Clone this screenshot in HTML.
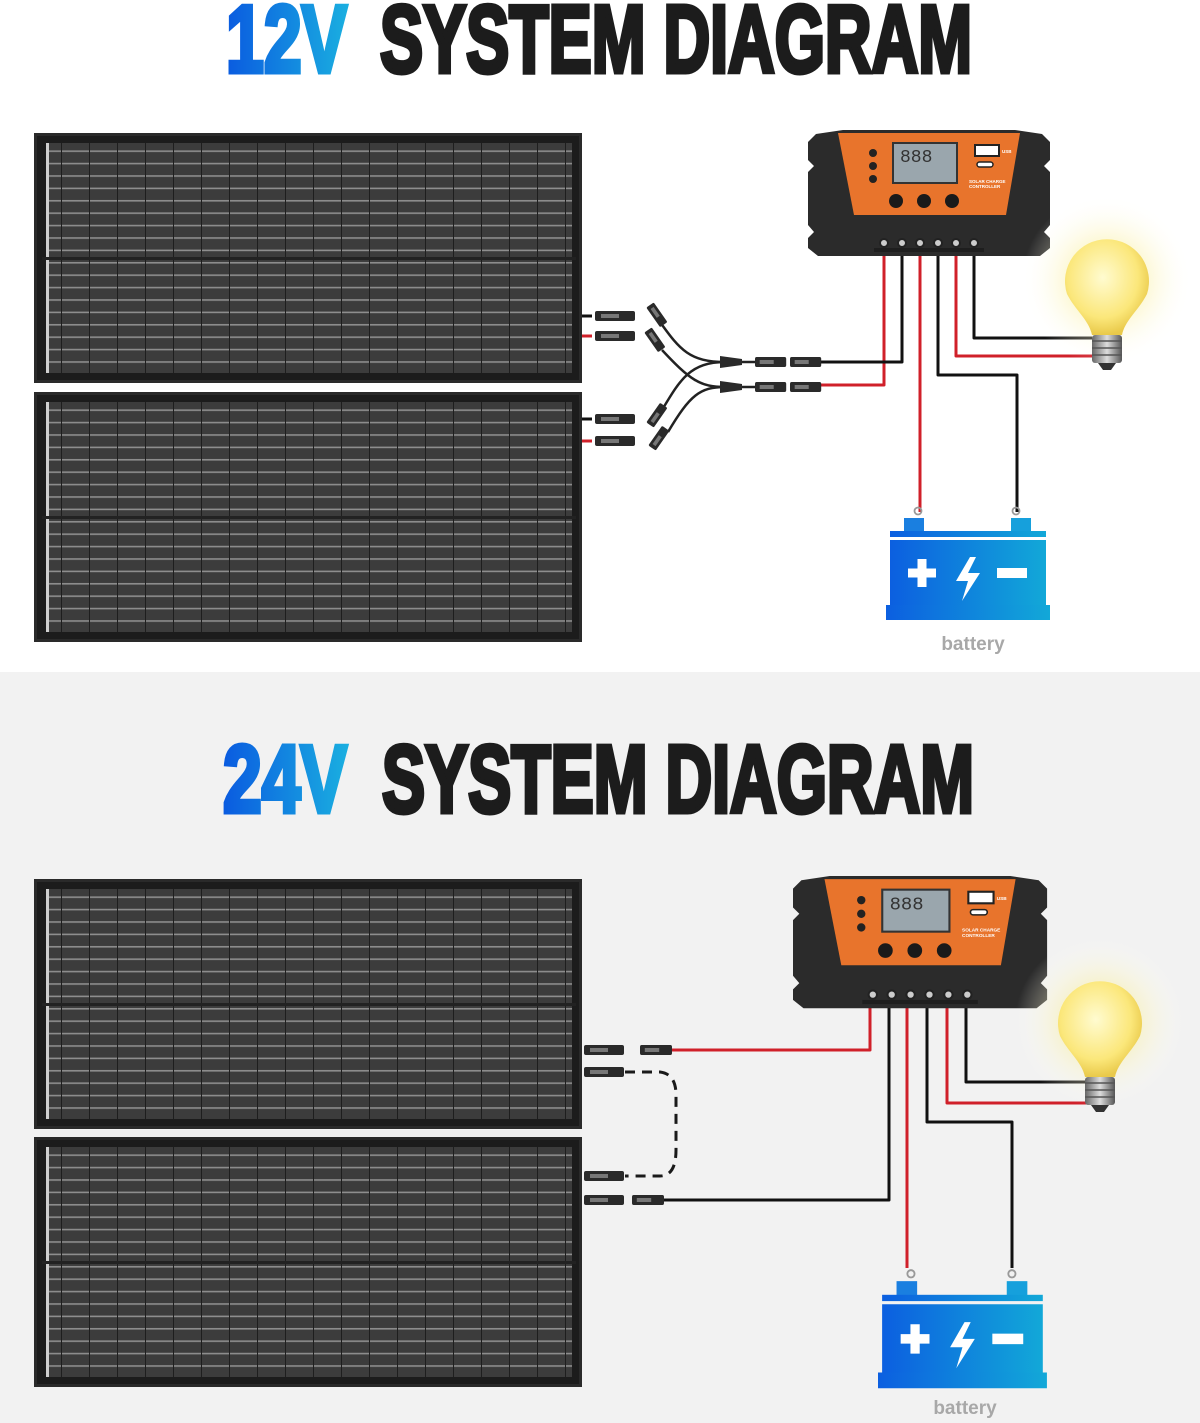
<!DOCTYPE html>
<html><head><meta charset="utf-8"><style>
html,body{margin:0;padding:0;width:1200px;height:1423px;overflow:hidden;background:#fff}
svg{display:block}
</style></head><body>
<svg width="1200" height="1423" viewBox="0 0 1200 1423" xmlns="http://www.w3.org/2000/svg" font-family="Liberation Sans, sans-serif">
<defs>
<linearGradient id="tg" x1="0" x2="1"><stop offset="0" stop-color="#0a5be0"/><stop offset="1" stop-color="#1aaee0"/></linearGradient>
<linearGradient id="bg" x1="0" x2="1"><stop offset="0" stop-color="#0c5fe0"/><stop offset="1" stop-color="#12a8d8"/></linearGradient>
<radialGradient id="glow"><stop offset="0" stop-color="#fff7b0" stop-opacity="0.9"/><stop offset="0.5" stop-color="#fbf3b8" stop-opacity="0.5"/><stop offset="1" stop-color="#fff" stop-opacity="0"/></radialGradient>
<radialGradient id="glass" cx="0.45" cy="0.4" r="0.6"><stop offset="0" stop-color="#fffbd0"/><stop offset="0.7" stop-color="#fbe77a"/><stop offset="1" stop-color="#e9c94a"/></radialGradient>
<linearGradient id="base" x1="0" x2="1"><stop offset="0" stop-color="#666"/><stop offset="0.5" stop-color="#ddd"/><stop offset="1" stop-color="#555"/></linearGradient>
<pattern id="cells" width="28" height="12.4" patternUnits="userSpaceOnUse">
<rect width="28" height="12.4" fill="#3c3c3c"/>
<rect y="5" width="28" height="1.6" fill="#8e8e8e"/>
<rect x="27" width="1" height="12.4" fill="#1e1e1e"/>
</pattern>
<g id="panel">
<rect x="0" y="0" width="548" height="250" fill="#2a2a2a"/>
<rect x="3" y="3" width="542" height="244" fill="#1c1c1c"/>
<rect x="12" y="10" width="526" height="230" fill="url(#cells)"/>
<rect x="12" y="10" width="3" height="230" fill="#cfcfcf"/>
<rect x="8" y="124" width="534" height="3" fill="#222"/>
</g>
<g id="ctrl">
<path d="M0,12 L8,4 L35,0 L207,0 L234,4 L242,12 L242,30 L236,36 L242,42 L242,95 L236,102 L242,108 L242,118 L232,126 L10,126 L0,118 L0,108 L6,102 L0,95 L0,42 L6,36 L0,30 Z" fill="#2b2b2b"/>
<path d="M30,3 L212,3 L198,85 L46,85 Z" fill="#e8742c"/>
<rect x="85" y="13" width="64" height="40" fill="#9aa6ad" stroke="#333" stroke-width="2"/>
<text x="92" y="32" font-size="18" fill="#333" font-family="Liberation Mono, monospace">888</text>
<circle cx="65" cy="23" r="4" fill="#222"/><circle cx="65" cy="36" r="4" fill="#222"/><circle cx="65" cy="49" r="4" fill="#222"/>
<rect x="167" y="15" width="24" height="11" fill="#fff" stroke="#222" stroke-width="2"/>
<rect x="169" y="32" width="16" height="5" rx="2.5" fill="#fff" stroke="#222" stroke-width="1.5"/>
<text x="161" y="53" font-size="4.5" fill="#fff" font-weight="bold">SOLAR CHARGE</text>
<text x="161" y="58" font-size="4.5" fill="#fff" font-weight="bold">CONTROLLER</text>
<text x="194" y="23" font-size="4.5" fill="#fff" font-weight="bold">USB</text>
<circle cx="88" cy="71" r="7" fill="#1a1a1a"/><circle cx="116" cy="71" r="7" fill="#1a1a1a"/><circle cx="144" cy="71" r="7" fill="#1a1a1a"/>
<rect x="66" y="118" width="110" height="4" fill="#1e1e1e"/>
<g fill="#ccc" stroke="#222" stroke-width="2">
<circle cx="76" cy="113" r="4"/><circle cx="94" cy="113" r="4"/><circle cx="112" cy="113" r="4"/><circle cx="130" cy="113" r="4"/><circle cx="148" cy="113" r="4"/><circle cx="166" cy="113" r="4"/>
</g>
</g>
<g id="bulb">
<circle cx="0" cy="0" r="85" fill="url(#glow)"/>
<path d="M-40,14 A42,42 0 1 1 40,14 C32,30 18,40 15,55 L-15,55 C-18,40 -32,30 -40,14 Z" fill="url(#glass)"/>
<rect x="-15" y="55" width="30" height="28" rx="3" fill="url(#base)"/>
<path d="M-15,61 H15 M-15,68 H15 M-15,75 H15" stroke="#555" stroke-width="1.5"/>
<path d="M-9,83 L9,83 L4,90 L-4,90 Z" fill="#333"/>
</g>
<g id="batt">
<rect x="18" y="3" width="20" height="15" fill="#1a7fe0"/>
<rect x="125" y="3" width="20" height="15" fill="#16a0dc"/>
<circle cx="32" cy="-4" r="3.5" fill="none" stroke="#999" stroke-width="1.8"/>
<circle cx="130" cy="-4" r="3.5" fill="none" stroke="#999" stroke-width="1.8"/>
<rect x="4" y="16" width="156" height="6" fill="url(#bg)"/>
<rect x="4" y="25" width="156" height="70" fill="url(#bg)"/>
<rect x="0" y="90" width="164" height="15" fill="url(#bg)"/>
<path d="M22,58 H50 M36,44 V72" stroke="#fff" stroke-width="9"/>
<path d="M84,42 L70,66 H82 L76,86 L94,58 H82 L90,42 Z" fill="#fff"/>
<rect x="111" y="53" width="30" height="10" fill="#fff"/>
</g>
<g id="mc">
<rect x="0" y="-5" width="40" height="10" rx="2" fill="#2a2a2a"/>
<rect x="6" y="-2" width="18" height="4" fill="#777"/>
</g>
</defs>

<rect x="0" y="0" width="1200" height="672" fill="#ffffff"/>
<text x="226" y="72" font-size="96" font-weight="bold" fill="url(#tg)" stroke="url(#tg)" stroke-width="5" textLength="121" lengthAdjust="spacingAndGlyphs">12V</text>
<text x="380" y="72" font-size="96" font-weight="bold" fill="#1c1c1c" stroke="#1c1c1c" stroke-width="5" textLength="592" lengthAdjust="spacingAndGlyphs">SYSTEM DIAGRAM</text>

<use href="#panel" x="34" y="133"/>
<use href="#panel" x="34" y="392"/>

<g fill="none" stroke-width="3" stroke-linejoin="round">
<path d="M884,250 V385 H820" stroke="#d0202a"/>
<path d="M902,250 V362 H820" stroke="#111"/>
<path d="M920,250 V512" stroke="#d0202a"/>
<path d="M938,250 V375 H1017 V512" stroke="#111"/>
<path d="M956,250 V356 H1092" stroke="#d0202a"/>
<path d="M974,250 V338 H1092" stroke="#111"/>
</g>
<g fill="none" stroke="#222" stroke-width="2.5">
<path d="M660,322 C680,350 690,362 725,362"/>
<path d="M662,350 C690,380 700,387 725,387"/>
<path d="M662,410 C680,380 690,362 725,362"/>
<path d="M668,432 C690,395 700,387 725,387"/>
<path d="M740,362 H755 M740,387 H755"/>
</g>
<path d="M582,316 H592" stroke="#111" stroke-width="3"/>
<path d="M582,336 H592" stroke="#d0202a" stroke-width="3"/>
<path d="M582,419 H592" stroke="#111" stroke-width="3"/>
<path d="M582,441 H592" stroke="#d0202a" stroke-width="3"/>
<use href="#mc" x="595" y="316"/><use href="#mc" x="595" y="336"/>
<use href="#mc" x="595" y="419"/><use href="#mc" x="595" y="441"/>
<use href="#mc" transform="translate(650,305) rotate(55) scale(0.6,0.9)"/>
<use href="#mc" transform="translate(648,330) rotate(55) scale(0.6,0.9)"/>
<use href="#mc" transform="translate(650,425) rotate(-55) scale(0.6,0.9)"/>
<use href="#mc" transform="translate(652,448) rotate(-55) scale(0.6,0.9)"/>
<path d="M720,356 L742,359 L742,365 L720,368 Z M720,381 L742,384 L742,390 L720,393 Z" fill="#2a2a2a"/>
<use href="#mc" transform="translate(755,362) scale(0.78,1)"/>
<use href="#mc" transform="translate(790,362) scale(0.78,1)"/>
<use href="#mc" transform="translate(755,387) scale(0.78,1)"/>
<use href="#mc" transform="translate(790,387) scale(0.78,1)"/>

<use href="#ctrl" x="808" y="130"/>
<use href="#bulb" transform="translate(1107,280)"/>
<use href="#batt" x="886" y="515"/>
<text x="973" y="650" font-size="19" font-weight="bold" fill="#a8a8a8" text-anchor="middle">battery</text>

<rect x="0" y="672" width="1200" height="751" fill="#f2f2f2"/>
<text x="223" y="812" font-size="96" font-weight="bold" fill="url(#tg)" stroke="url(#tg)" stroke-width="5" textLength="124" lengthAdjust="spacingAndGlyphs">24V</text>
<text x="382" y="812" font-size="96" font-weight="bold" fill="#1c1c1c" stroke="#1c1c1c" stroke-width="5" textLength="592" lengthAdjust="spacingAndGlyphs">SYSTEM DIAGRAM</text>

<use href="#panel" x="34" y="879"/>
<use href="#panel" x="34" y="1137"/>

<g fill="none" stroke-width="3" stroke-linejoin="round">
<path d="M870,1005 V1050 H655" stroke="#d0202a"/>
<path d="M889,1005 V1200 H655" stroke="#111"/>
<path d="M907,1005 V1268" stroke="#d0202a"/>
<path d="M927,1005 V1122 H1012 V1268" stroke="#111"/>
<path d="M947,1005 V1103 H1088" stroke="#d0202a"/>
<path d="M966,1005 V1082 H1088" stroke="#111"/>
<path d="M625,1072 H660 Q676,1074 676,1095 V1150 Q676,1176 660,1176 H625" stroke="#1a1a1a" stroke-dasharray="10,7"/>
</g>
<use href="#mc" x="584" y="1050"/><use href="#mc" transform="translate(640,1050) scale(0.8,1)"/>
<use href="#mc" x="584" y="1072"/>
<use href="#mc" x="584" y="1176"/>
<use href="#mc" x="584" y="1200"/><use href="#mc" transform="translate(632,1200) scale(0.8,1)"/>

<use href="#ctrl" transform="translate(793,876) scale(1.05)"/>
<use href="#bulb" transform="translate(1100,1022)"/>
<use href="#batt" transform="translate(878,1278) scale(1.03,1.05)"/>
<text x="965" y="1414" font-size="19" font-weight="bold" fill="#a8a8a8" text-anchor="middle">battery</text>
</svg>
</body></html>
